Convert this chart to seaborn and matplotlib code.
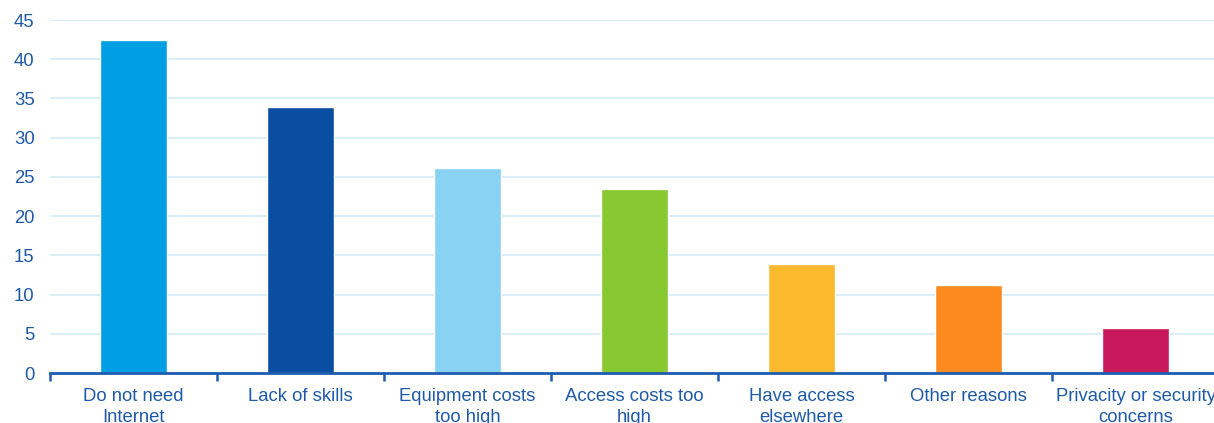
import matplotlib
matplotlib.use("Agg")
import matplotlib.pyplot as plt
import seaborn as sns
import pandas as pd

categories = ["Do not need\nInternet", "Lack of skills", "Equipment costs\ntoo high",
              "Access costs too\nhigh", "Have access\nelsewhere", "Other reasons",
              "Privacity or security\nconcerns"]
values = [42.5, 33.9, 26.1, 23.5, 13.9, 11.2, 5.7]
colors = ["#009fe3", "#0a4ea2", "#8ad2f2", "#88c830", "#fdb92e", "#fd8a1f", "#c8175a"]
yticks = [0, 5, 10, 15, 20, 25, 30, 35, 40, 45]

sns.set_theme(style="white")
plt.rcParams["font.family"] = ["Liberation Sans", "DejaVu Sans"]

text_blue = "#1f5aa8"
axis_blue = "#1d5cb0"
grid_blue = "#d4eef9"

df = pd.DataFrame({"reason": categories, "share": values})

fig = plt.figure(figsize=(12.14, 4.23), dpi=100)
W, H = 1214, 423
ax = fig.add_axes([50 / W, 50 / H, (1219 - 50) / W, (373 - 20) / H])

sns.barplot(data=df, x="reason", y="share", hue="reason", palette=colors,
            width=0.4, dodge=False, legend=False, ax=ax, saturation=1)

ax.set_ylim(0, 45)
ax.set_xlim(-0.5, len(categories) - 0.5)
ax.set_yticks(yticks)
ax.yaxis.grid(True, color=grid_blue, linewidth=1.3)
ax.set_axisbelow(True)
ax.set_xlabel("")
ax.set_ylabel("")

for side in ["top", "right", "left"]:
    ax.spines[side].set_visible(False)
ax.spines["bottom"].set_color(axis_blue)
ax.spines["bottom"].set_linewidth(2)

# Tick marks sit on category boundaries; labels centred under bars
ax.set_xticks([i - 0.5 for i in range(len(categories) + 1)], minor=False)
ax.set_xticklabels([])
ax.tick_params(axis="x", which="major", bottom=True, length=6, width=1.8,
               color=axis_blue, direction="out")
ax.set_xticks(range(len(categories)), minor=True)
ax.set_xticklabels(categories, minor=True)
ax.tick_params(axis="x", which="minor", bottom=True, length=0, pad=11,
               labelsize=13.3, labelcolor=text_blue)
for lab in ax.get_xticklabels(minor=True):
    lab.set_linespacing(1.25)

ax.tick_params(axis="y", left=False, length=0, pad=11, labelsize=13.3, labelcolor=text_blue)

fig.savefig("out.png", dpi=100)
